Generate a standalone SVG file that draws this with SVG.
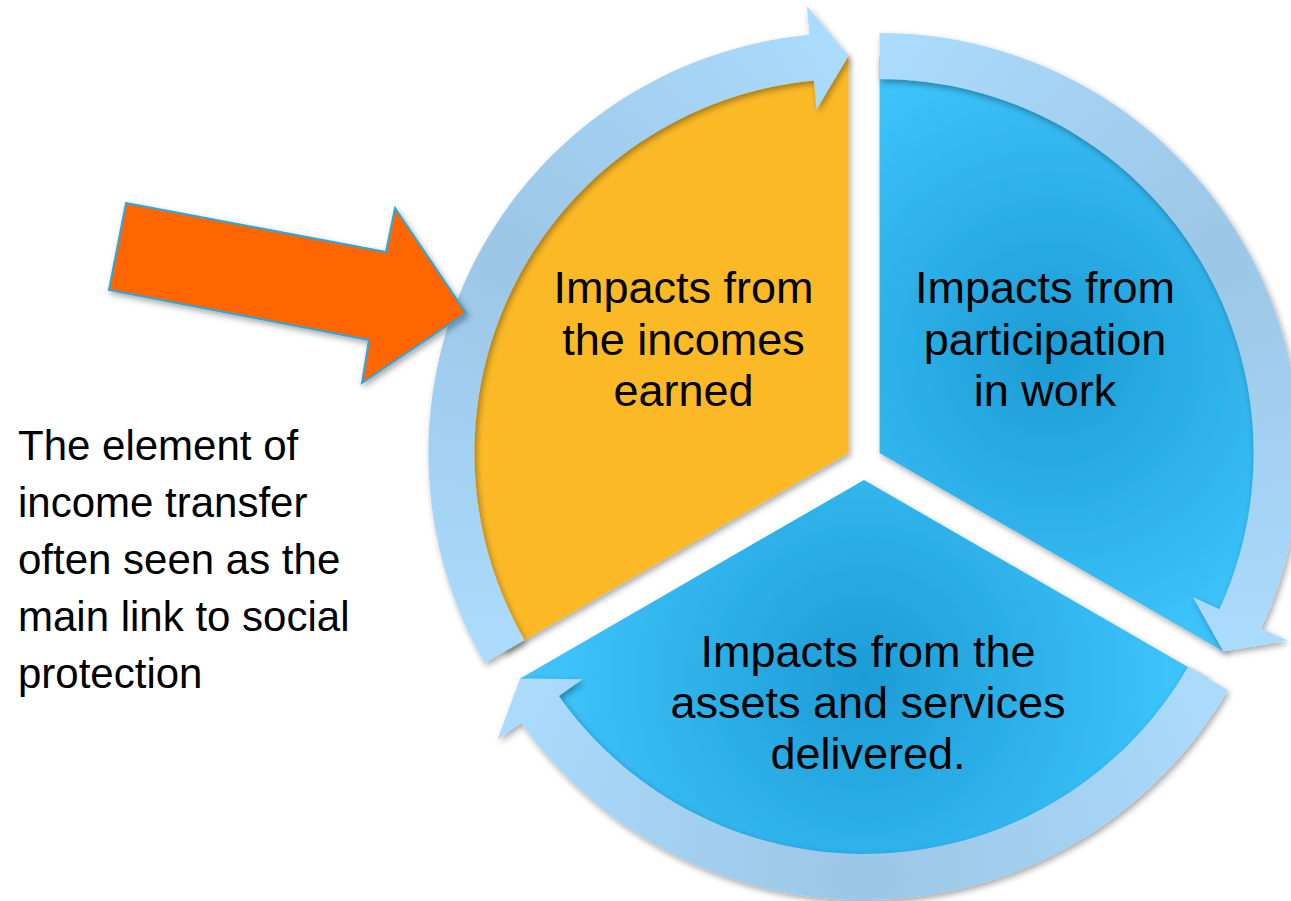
<svg xmlns="http://www.w3.org/2000/svg" width="1291" height="901" viewBox="0 0 1291 901">
  <defs>
    <style>
      .lbl { font-family: "Liberation Sans", Arial, sans-serif; font-size: 45px; fill: #000; text-anchor: middle; }
      .side { font-family: "Liberation Sans", Arial, sans-serif; font-size: 42px; fill: #000; }
      .ring { fill: url(#ringGrad); }
    </style>
    <radialGradient id="blueGrad" gradientUnits="userSpaceOnUse" cx="-172" cy="-99" r="300">
      <stop offset="0" stop-color="#1C9CD5"/>
      <stop offset="1" stop-color="#3CC2FA"/>
    </radialGradient>
    <radialGradient id="ringGrad" gradientUnits="userSpaceOnUse" cx="-343.8" cy="-198.5" r="380">
      <stop offset="0" stop-color="#9CC6E6"/>
      <stop offset="1" stop-color="#AADAFC"/>
    </radialGradient>
    <filter id="shadow" x="-10%" y="-10%" width="120%" height="120%">
      <feDropShadow dx="2" dy="3" stdDeviation="3" flood-color="#000" flood-opacity="0.35"/>
    </filter>
    <path id="sector" d="M 0 0 L -343.81 198.5 A 397 397 0 0 1 0 -397 Z"/>
    <path id="ringArrow" d="M -363.73 210 A 420 420 0 0 1 -38.80 -418.20 L -41.47 -447.08 L 0 -397 L -31.87 -343.53 L -34.55 -372.40 A 374 374 0 0 0 -323.89 187 Z"/>
  </defs>
  <rect width="1291" height="901" fill="#FFFFFF"/>

  <g id="node-incomes" filter="url(#shadow)">
    <use href="#sector" transform="translate(864 462) rotate(0) translate(-15.59 -9)" fill="#FBB927"/>
  </g>
  <g id="node-participation" filter="url(#shadow)">
    <use href="#sector" transform="translate(864 462) rotate(120) translate(-15.59 -9)" fill="url(#blueGrad)"/>
  </g>
  <g id="node-assets" filter="url(#shadow)">
    <use href="#sector" transform="translate(864 462) rotate(240) translate(-15.59 -9)" fill="url(#blueGrad)"/>
  </g>

  <g id="connectors" filter="url(#shadow)">
    <use href="#ringArrow" class="ring" transform="translate(864 462) rotate(0) translate(-15.59 -9)"/>
    <use href="#ringArrow" class="ring" transform="translate(864 462) rotate(120) translate(-15.59 -9)"/>
    <use href="#ringArrow" class="ring" transform="translate(864 462) rotate(240) translate(-15.59 -9)"/>
  </g>

  <g id="labels">
    <text class="lbl" x="683.5" y="303">Impacts from</text>
    <text class="lbl" x="683.5" y="355">the incomes</text>
    <text class="lbl" x="683.5" y="406">earned</text>
    <text class="lbl" x="1045" y="303">Impacts from</text>
    <text class="lbl" x="1045" y="355">participation</text>
    <text class="lbl" x="1045" y="406">in work</text>
    <text class="lbl" x="868" y="667">Impacts from the</text>
    <text class="lbl" x="868" y="718">assets and services</text>
    <text class="lbl" x="868" y="769">delivered.</text>
  </g>

  <g id="orange-arrow" filter="url(#shadow)">
    <polygon points="126,203 386,252 395,208 466,313 362,383 369,340 109,290" fill="#FF6600" stroke="#29A8E0" stroke-width="2" stroke-linejoin="miter"/>
  </g>

  <g id="side-note">
    <text class="side" x="18" y="460">The element of</text>
    <text class="side" x="18" y="517">income transfer</text>
    <text class="side" x="18" y="574">often seen as the</text>
    <text class="side" x="18" y="631">main link to social</text>
    <text class="side" x="18" y="688">protection</text>
  </g>
</svg>
